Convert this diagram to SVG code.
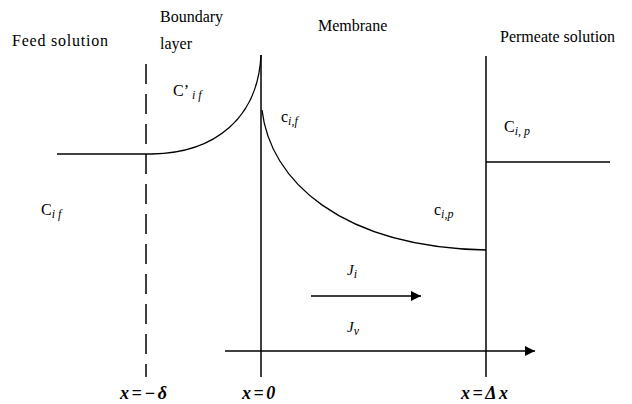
<svg xmlns="http://www.w3.org/2000/svg" width="632" height="404" viewBox="0 0 632 404" font-family="Liberation Serif, Times New Roman, DejaVu Serif, serif">
<defs>
<style>
text{fill:#000}
.t{font-size:16px}
.s{font-size:12px;font-style:italic}
.m{font-size:15px;font-style:italic}
.b{font-size:18px;font-weight:bold;font-style:italic;letter-spacing:2.5px}
.ln{stroke:#000;stroke-width:1.5;fill:none}
.cv{stroke:#000;stroke-width:1.3;fill:none}
</style>
<marker id="ah" viewBox="0 0 10 10" refX="10" refY="5" markerWidth="14" markerHeight="10" markerUnits="userSpaceOnUse" orient="auto"><path d="M0,0 L10,5 L0,10 Z" fill="#000"/></marker>
</defs>
<rect width="632" height="404" fill="#fff"/>
<g id="labels">
<text class="t" x="12" y="46" font-family="Liberation Serif" textLength="96">Feed solution</text>
<text class="t" x="160" y="22" font-family="Liberation Serif">Boundary</text>
<text class="t" x="160" y="49" font-family="Liberation Serif">layer</text>
<text class="t" x="318" y="31" font-family="Liberation Serif">Membrane</text>
<text class="t" x="500" y="42" font-family="Liberation Serif">Permeate solution</text>
</g>
<g id="connectors">
<line class="ln" x1="146" y1="64" x2="146" y2="377" stroke-dasharray="20 10"/>
<line class="ln" x1="261" y1="55" x2="261" y2="377"/>
<line class="ln" x1="486" y1="56" x2="486" y2="377"/>
<line class="ln" x1="57" y1="154" x2="152" y2="154"/>
<path class="cv" d="M152,154 C215,153 258,118 261,55"/>
<path class="cv" d="M262,110 C270,180 340,247 486,250"/>
<line class="ln" x1="486" y1="162" x2="610" y2="162"/>
<line class="ln" x1="311" y1="296" x2="421" y2="296" marker-end="url(#ah)"/>
<line class="ln" x1="225" y1="351" x2="535" y2="351" marker-end="url(#ah)"/>
</g>
<g id="conc" font-family="Liberation Serif">
<text class="t" x="173" y="96">C’<tspan class="s" dx="3" dy="3">i f</tspan></text>
<text class="t" x="41" y="215">C<tspan class="s" dy="3">i f</tspan></text>
<text class="t" x="281" y="122">c<tspan class="s" dy="3">i,f</tspan></text>
<text class="t" x="434" y="215">c<tspan class="s" dy="3">i,p</tspan></text>
<text class="t" x="504" y="132">C<tspan class="s" dy="3">i, p</tspan></text>
<text class="m" x="347" y="275">J<tspan class="s" dy="3">i</tspan></text>
<text class="m" x="347" y="332">J<tspan class="s" dy="3">v</tspan></text>
</g>
<g id="axis" font-family="Liberation Serif">
<text class="b" x="120" y="399">x=−δ</text>
<text class="b" x="242" y="399">x=0</text>
<text class="b" x="461" y="399">x=Δx</text>
</g>
</svg>
